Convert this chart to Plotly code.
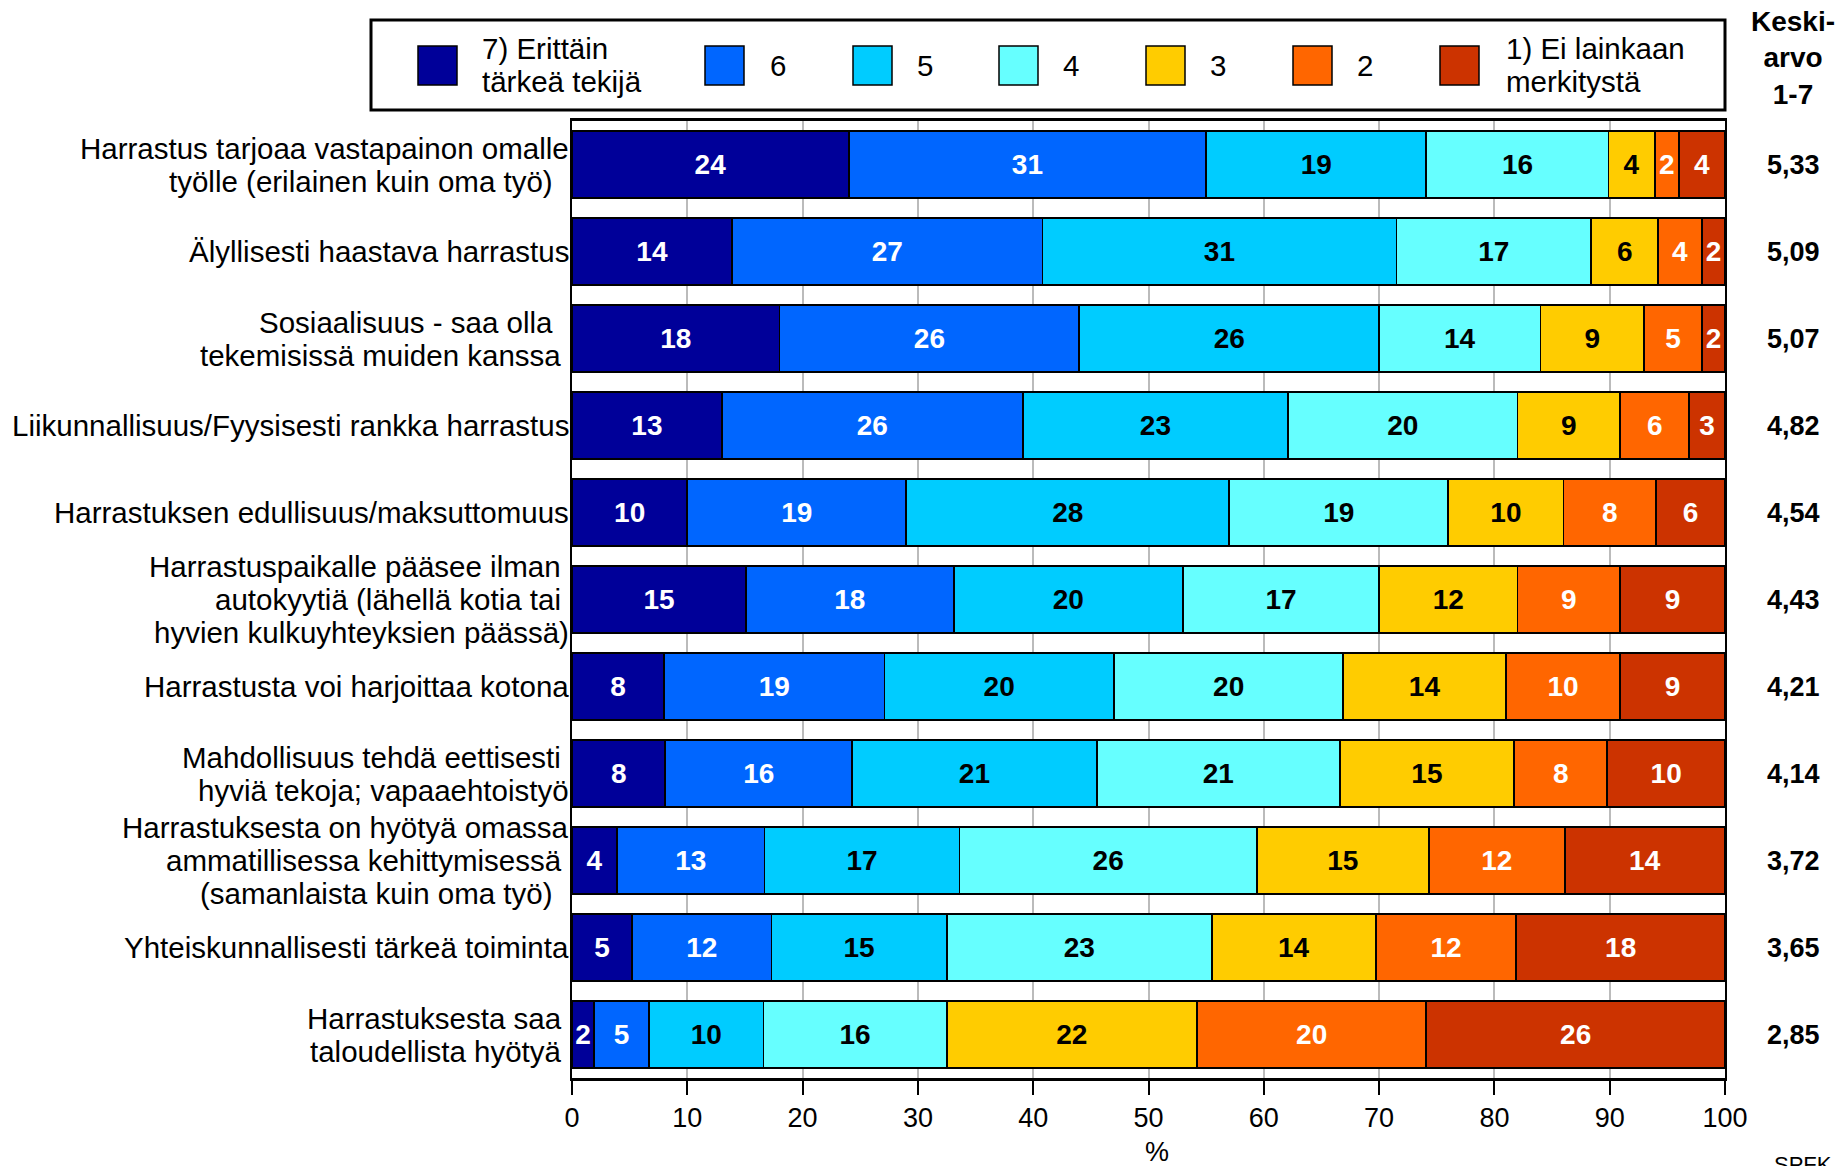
import plotly.graph_objects as go

# ---------------- data ----------------
categories = [
    "Harrastus tarjoaa vastapainon omalle<br>työlle (erilainen kuin oma työ)\u00a0\u00a0",
    "Älyllisesti haastava harrastus",
    "Sosiaalisuus - saa olla\u00a0\u00a0<br>tekemisissä muiden kanssa\u00a0",
    "Liikunnallisuus/Fyysisesti rankka harrastus",
    "Harrastuksen edullisuus/maksuttomuus",
    "Harrastuspaikalle pääsee ilman\u00a0<br>autokyytiä (lähellä kotia tai\u00a0<br>hyvien kulkuyhteyksien päässä)",
    "Harrastusta voi harjoittaa kotona",
    "Mahdollisuus tehdä eettisesti\u00a0<br>hyviä tekoja; vapaaehtoistyö",
    "Harrastuksesta on hyötyä omassa<br>ammatillisessa kehittymisessä\u00a0<br>(samanlaista kuin oma työ)\u00a0\u00a0",
    "Yhteiskunnallisesti tärkeä toiminta",
    "Harrastuksesta saa\u00a0<br>taloudellista hyötyä\u00a0",
]

series_names = ["7) Erittäin<br>tärkeä tekijä", "6", "5", "4", "3", "2", "1) Ei lainkaan<br>merkitystä"]

s7 = [24.0, 13.9, 18.0, 13.0, 10.0, 15.1, 8.0, 8.1, 3.9, 5.2, 1.9]
s6 = [31.0, 26.9, 26.0, 26.1, 19.0, 18.0, 19.1, 16.2, 12.8, 12.1, 4.8]
s5 = [19.1, 30.7, 26.0, 23.0, 28.0, 19.9, 19.9, 21.2, 16.9, 15.2, 9.9]
s4 = [15.8, 16.9, 14.0, 19.9, 19.0, 17.0, 19.9, 21.1, 25.8, 23.0, 15.9]
s3 = [4.0, 5.8, 9.0, 8.9, 10.0, 12.0, 14.1, 15.1, 14.9, 14.2, 21.7]
s2 = [2.1, 3.8, 5.0, 6.0, 8.0, 8.9, 9.9, 8.1, 11.8, 12.2, 19.9]
s1 = [4.0, 2.0, 2.0, 3.1, 6.0, 9.1, 9.1, 10.2, 13.9, 18.1, 25.9]

averages = [5.33, 5.09, 5.07, 4.82, 4.54, 4.43, 4.21, 4.14, 3.72, 3.65, 2.85]

x_ticks = [0, 10, 20, 30, 40, 50, 60, 70, 80, 90, 100]

# ---------------- styles ----------------
colors = ["#000099", "#0066FF", "#00CCFF", "#66FFFF", "#FFCC00", "#FF6600", "#CC3300"]
text_colors = ["white", "white", "black", "black", "black", "white", "white"]
FONT = "Liberation Sans, Arial, Helvetica, sans-serif"

W, H = 1839, 1166
L, R, T, B = 572, 1725, 121, 1078
LINE = 33  # line spacing of multi-line labels (px)


def px(x):
    return (x - L) / (R - L)


def py(y):
    return (B - y) / (B - T)


fig = go.Figure()
all_series = [s7, s6, s5, s4, s3, s2, s1]
for name, vals, c, tc in zip(series_names, all_series, colors, text_colors):
    fig.add_trace(go.Bar(
        y=categories, x=vals, name=name, orientation="h",
        marker=dict(color=c, line=dict(color="black", width=1.8)),
        texttemplate="<b>%{x:.0f}</b>", textposition="inside",
        insidetextanchor="middle", textangle=0, constraintext="none",
        textfont=dict(family=FONT, size=28, color=tc),
        showlegend=False, cliponaxis=False,
    ))

fig.update_layout(
    width=W, height=H, autosize=False,
    margin=dict(l=L, r=W - R, t=T, b=H - B, pad=0),
    barmode="stack", bargap=0.23,
    paper_bgcolor="white", plot_bgcolor="white",
    font=dict(family=FONT, color="black"),
)

fig.update_xaxes(
    range=[0, 100], tickvals=x_ticks, ticktext=[str(v) for v in x_ticks],
    ticks="outside", ticklen=14, tickwidth=1.5, tickcolor="black",
    tickfont=dict(family=FONT, size=27, color="black"), ticklabelstandoff=0,
    showgrid=True, gridcolor="#BBBBBB", gridwidth=1.5,
    showline=True, linecolor="black", linewidth=3, mirror=True,
    zeroline=False, fixedrange=True,
)
fig.update_yaxes(
    categoryorder="array", categoryarray=categories,
    range=[len(categories) - 0.5, -0.5],
    showline=True, linecolor="black", linewidth=2, mirror=True,
    ticks="", showticklabels=False, showgrid=False, fixedrange=True,
)

shapes = []
annotations = []


def multiline(text, xref, x, yref, y, anchor, size, bold=False):
    lines = text.split("<br>")
    n = len(lines)
    for k, line in enumerate(lines):
        shift = ((n - 1) / 2 - k) * LINE
        t = f"<b>{line}</b>" if bold else line
        annotations.append(dict(xref=xref, yref=yref, x=x, y=y, yshift=shift,
                                xanchor=anchor, yanchor="middle", showarrow=False,
                                text=t, font=dict(family=FONT, size=size, color="black")))


# category labels (right-aligned against the axis)
for cat in categories:
    multiline(cat, "paper", px(571), "y", cat, "right", 29.5)

# legend box
shapes.append(dict(type="rect", xref="paper", yref="paper",
                   x0=px(371), x1=px(1725), y0=py(110), y1=py(20),
                   line=dict(color="black", width=3), fillcolor="white", layer="above"))
sw_left = [418, 705, 853, 999, 1146, 1293, 1440]
txt_left = [480, 768, 915, 1061, 1208, 1355, 1504]
for name, c, sl, tl in zip(series_names, colors, sw_left, txt_left):
    shapes.append(dict(type="rect", xref="paper", yref="paper",
                       x0=px(sl), x1=px(sl + 39), y0=py(85), y1=py(46),
                       line=dict(color="black", width=1.5), fillcolor=c, layer="above"))
    multiline(name, "paper", px(tl), "paper", py(65), "left", 29.5)

# averages column
annotations.append(dict(xref="paper", yref="paper", x=px(1793), y=py(58),
                        xanchor="center", yanchor="middle", showarrow=False,
                        text="<b>Keski-<br>arvo<br>1-7</b>", align="center",
                        font=dict(family=FONT, size=28, color="black")))
for cat, a in zip(categories, averages):
    annotations.append(dict(xref="paper", yref="y", x=px(1793), y=cat,
                            xanchor="center", yanchor="middle", showarrow=False,
                            text="<b>" + f"{a:.2f}".replace(".", ",") + "</b>",
                            font=dict(family=FONT, size=27, color="black")))

# x-axis title and source
annotations.append(dict(xref="paper", yref="paper", x=px(1157), y=py(1152),
                        xanchor="center", yanchor="middle", showarrow=False,
                        text="%", font=dict(family=FONT, size=27, color="black")))
annotations.append(dict(xref="paper", yref="paper", x=px(1772), y=py(1150),
                        xanchor="left", yanchor="top", showarrow=False,
                        text="SPFK", font=dict(family=FONT, size=22, color="black")))

fig.update_layout(shapes=shapes, annotations=annotations)
fig.write_html(
    "out.html",
    config={"displayModeBar": False},
    post_script="document.body.style.margin='0';document.body.style.overflow='hidden';",
)
